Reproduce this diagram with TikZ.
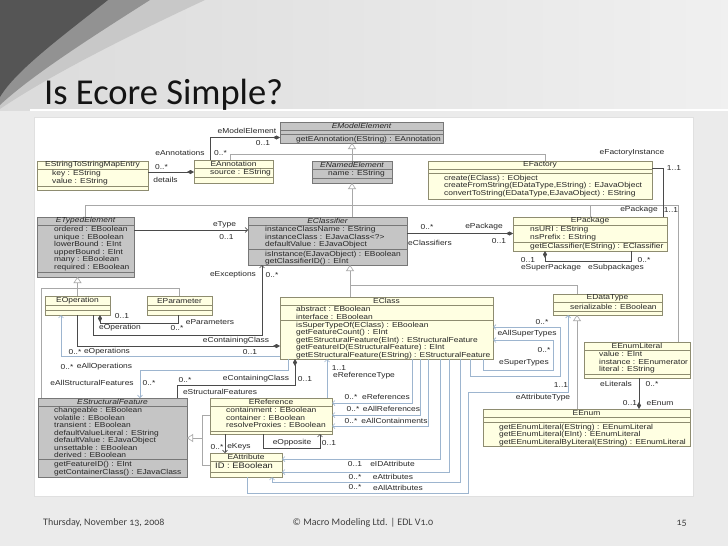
\documentclass[tikz,border=0pt]{standalone}
\usepackage{fontspec}
\setmainfont{Carlito}
\newfontfamily\footf[Numbers=OldStyle]{Carlito}
\newfontfamily\umlf[FakeStretch=1.17]{Liberation Sans}
\usetikzlibrary{arrows.meta}
\definecolor{slidebg}{HTML}{EBEBEB}
\definecolor{absfill}{HTML}{C5C5C5}
\definecolor{absdraw}{HTML}{777777}
\definecolor{confill}{HTML}{FFFFE2}
\definecolor{condraw}{HTML}{8E8C70}
\definecolor{genc}{HTML}{A8A8A8}
\definecolor{ascc}{HTML}{4A4A4A}
\definecolor{drvc}{HTML}{9DB5CF}
\definecolor{txtc}{HTML}{262626}
\definecolor{decoD}{HTML}{555555}
\definecolor{decoM}{HTML}{929292}
\definecolor{decoL}{HTML}{C8C8C8}
\newcommand\umlfont{\umlf\fontsize{7.2}{7.5}\selectfont}
\newcommand\umlbox[9]{%
  \pgfmathsetmacro\ubW{#5-#3}%
  \pgfmathsetmacro\ubH{#6-#4}%
  \pgfmathsetmacro\ubT{(#4+#7)/2}%
  \node[#2, minimum width=\ubW pt, minimum height=\ubH pt, anchor=north west] (#1) at (#3,#4) {};
  \draw[#2sep] (#1.west |- 0,#7) -- (#1.east |- 0,#7);
  \draw[#2sep] (#1.west |- 0,#8) -- (#1.east |- 0,#8);
  \node[ttl] (#1-t) at (#1.center |- 0,\ubT) {#9};
}
\begin{document}
\begin{tikzpicture}[x=1pt,y=-1pt,
  absbox/.style={draw=absdraw, fill=absfill, line width=0.6pt, inner sep=0pt, outer sep=0pt},
  conbox/.style={draw=condraw, fill=confill, line width=0.6pt, inner sep=0pt, outer sep=0pt},
  absboxsep/.style={draw=absdraw, line width=0.5pt},
  conboxsep/.style={draw=condraw, line width=0.5pt},
  ttl/.style={font=\umlfont, inner sep=0pt, text=txtc},
  rowtxt/.style={font=\umlfont, align=left, inner sep=0pt, anchor=north west, text=txtc},
  lbl/.style={font=\umlfont, inner sep=0pt, text=txtc},
  gen/.style={draw=genc, line width=0.6pt, -{Triangle[open, length=6pt, width=8pt, fill=white]}},
  genl/.style={draw=genc, line width=0.6pt},
  asc/.style={draw=ascc, line width=0.6pt},
  nav/.style={asc, -{Straight Barb[length=2.5pt, width=5pt]}},
  cmpE/.style={asc, -{Diamond[length=7pt, width=4pt]}},
  cmpS/.style={asc, {Diamond[length=7pt, width=4pt]}-},
  drv/.style={draw=drvc, line width=0.7pt, -{Straight Barb[length=2.5pt, width=5pt]}},
]
\useasboundingbox (0,0) rectangle (728,546);
% slide background
\fill[slidebg] (0,0) rectangle (728,546);
\shade[left color=black!14, right color=black!6] (0,0) rectangle (728,110);
\fill[decoL] (0,0) -- (205,0) .. controls (130,35) and (50,75) .. (0,109) -- cycle;
\fill[decoM] (0,0) -- (150,0) .. controls (95,35) and (32,75) .. (0,105) -- cycle;
\fill[decoD] (0,0) -- (108,0) .. controls (64,35) and (16,70) .. (0,97) -- cycle;
\draw[white, line width=1.2pt] (30,110) -- (728,110);
\node[anchor=base west, inner sep=0pt, font=\fontsize{36.5}{40}\selectfont, text=black!92] (title) at (44,104) {Is Ecore Simple?};
% white panel
\fill[white, draw=black!12] (34,117) rectangle (693,496);
% footer
\node[anchor=base west, inner sep=0pt, font=\footf\fontsize{10}{12}\selectfont, text=black!75] (fdate) at (43,525) {Thursday, November 13, 2008};
\node[anchor=base, inner sep=0pt, font=\footf\fontsize{10}{12}\selectfont, text=black!75] (fcopy) at (363,525) {© Macro Modeling Ltd. | EDL V1.0};
\node[anchor=base east, inner sep=0pt, font=\footf\fontsize{10}{12}\selectfont, text=black!75] (fnum) at (687,525) {15};

% ---------- classes ----------
\umlbox{emodel}{absbox}{280}{122}{443}{143}{130.5}{134.5}{\itshape EModelElement}
\node[rowtxt] (emodel-o) at (296,135.7) {getEAnnotation(EString) : EAnnotation};

\umlbox{enamed}{absbox}{312}{161}{392}{183}{169}{178.5}{\itshape ENamedElement}
\node[rowtxt] (enamed-a) at (328,170.5) {name : EString};

\umlbox{eannot}{conbox}{194}{160}{273}{183}{168}{177.5}{EAnnotation}
\node[rowtxt] (eannot-a) at (210,169.5) {source : EString};

\umlbox{emap}{conbox}{37}{161}{148}{190}{169}{186}{EStringToStringMapEntry}
\node[rowtxt] (emap-a) at (52,170.5) {key : EString\\value : EString};

\umlbox{efact}{conbox}{428}{161}{652}{199}{169}{173.5}{EFactory}
\node[rowtxt] (efact-o) at (444,175) {create(EClass) : EObject\\createFromString(EDataType,EString) : EJavaObject\\convertToString(EDataType,EJavaObject) : EString};

\umlbox{etyped}{absbox}{37}{217}{134}{277}{225}{272}{\itshape ETypedElement}
\node[rowtxt] (etyped-a) at (54,226.5) {ordered : EBoolean\\unique : EBoolean\\lowerBound : EInt\\upperBound : EInt\\many : EBoolean\\required : EBoolean};

\umlbox{eclsf}{absbox}{248}{217}{407}{265}{225}{249.5}{\itshape EClassifier}
\node[rowtxt] (eclsf-a) at (265,226.5) {instanceClassName : EString\\instanceClass : EJavaClass<?>\\defaultValue : EJavaObject};
\node[rowtxt] (eclsf-o) at (265,251) {isInstance(EJavaObject) : EBoolean\\getClassifierID() : EInt};

\umlbox{epack}{conbox}{513}{217}{667}{251}{225}{242}{EPackage}
\node[rowtxt] (epack-a) at (530,226.5) {nsURI : EString\\nsPrefix : EString};
\node[rowtxt] (epack-o) at (530,243.5) {getEClassifier(EString) : EClassifier};

\umlbox{eop}{conbox}{45}{296}{110}{315}{305.5}{310.5}{EOperation}
\umlbox{eparam}{conbox}{147}{296}{212}{315}{305.5}{310.5}{EParameter}

\umlbox{eclass}{conbox}{280}{297}{493}{359}{305}{320.5}{EClass}
\node[rowtxt] (eclass-a) at (296,306.5) {abstract : EBoolean\\interface : EBoolean};
\node[rowtxt] (eclass-o) at (296,322) {isSuperTypeOf(EClass) : EBoolean\\getFeatureCount() : EInt\\getEStructuralFeature(EInt) : EStructuralFeature\\getFeatureID(EStructuralFeature) : EInt\\getEStructuralFeature(EString) : EStructuralFeature};

\umlbox{edt}{conbox}{553}{294}{662}{315}{302.5}{311.5}{EDataType}
\node[rowtxt] (edt-a) at (570,304) {serializable : EBoolean};

\umlbox{elit}{conbox}{584}{342}{690}{378}{350}{374.5}{EEnumLiteral}
\node[rowtxt] (elit-a) at (599,351.5) {value : EInt\\instance : EEnumerator\\literal : EString};

\umlbox{eenum}{conbox}{483}{409}{690}{446}{417}{422}{EEnum}
\node[rowtxt] (eenum-o) at (499,424) {getEEnumLiteral(EString) : EEnumLiteral\\getEEnumLiteral(EInt) : EEnumLiteral\\getEEnumLiteralByLiteral(EString) : EEnumLiteral};

\umlbox{esf}{absbox}{38}{398}{187}{477}{406}{459.5}{\itshape EStructuralFeature}
\node[rowtxt] (esf-a) at (54,407.5) {changeable : EBoolean\\volatile : EBoolean\\transient : EBoolean\\defaultValueLiteral : EString\\defaultValue : EJavaObject\\unsettable : EBoolean\\derived : EBoolean};
\node[rowtxt] (esf-o) at (54,461.5) {getFeatureID() : EInt\\getContainerClass() : EJavaClass};

\umlbox{eref}{conbox}{210}{398}{332}{434}{406}{431}{EReference}
\node[rowtxt] (eref-a) at (226,407.5) {containment : EBoolean\\container : EBoolean\\resolveProxies : EBoolean};

\umlbox{eattr}{conbox}{210}{453}{282}{477}{461}{472}{EAttribute}
\node[rowtxt, font=\umlf\fontsize{8}{9}\selectfont] (eattr-a) at (215,462.3) {ID : EBoolean};

% ---------- generalizations ----------
\draw[gen] (enamed.north) -- (enamed.north |- emodel.south);
\draw[genl] (eannot.north -| 230,0) |- (545,154) -- (efact.north -| 545,0);
\draw[gen] (eclsf.north -| enamed.south) -- (enamed.south);
\draw[genl] (etyped.north) |- (678,205) -- (elit.north -| 678,0);
\draw[genl] (epack.north |- 0,205) -- (epack.north);
\draw[gen] (eop.north) -- (eop.north |- etyped.south);
\draw[genl] (esf.north -| 41,0) |- (eparam.north |- 0,288) -- (eparam.north);
\draw[gen] (eclass.north -| 350,0) -- (eclsf.south -| 350,0);
\draw[genl] (350,285) -| (edt.north -| 577,0);
\draw[gen] (eenum.north -| 577,0) -- (edt.south -| 577,0);
\draw[gen] (202,438) -- (esf.east |- 0,438);
\draw[genl] (eref.west |- 0,415) -| (202,465) -- (eattr.west |- 0,465);

% ---------- associations ----------
\draw[cmpE] (eannot.north -| 210,0) |- (emodel.west |- 0,137.5);
\draw[cmpE] (emap.east |- 0,172) -- (eannot.west |- 0,172);
\draw[nav] (etyped.east |- 0,230) -- (eclsf.west |- 0,230);
\draw[cmpE] (eclsf.east |- 0,233.5) -- (epack.west |- 0,233.5);
\draw[asc] (efact.east |- 0,168) -| (epack.north -| 663,0);
\draw[cmpS] (epack.south -| 545,0) |- (631,261) -- (epack.south -| 631,0);
\draw[cmpE] (elit.south -| 639,0) -- (eenum.north -| 639,0);
\draw[nav] (eop.south -| 93,0) |- (262,335) -- (eclsf.south -| 262,0);
\draw[cmpS] (eop.south -| 100,0) |- (178,323) -- (eparam.south -| 178,0);
\draw[cmpE] (eop.south -| 77,0) |- (eclass.west |- 0,346);
\draw[drv] (eclass.west |- 0,356.5) -| (eop.south -| 61,0);
\draw[cmpS] (eclass.south -| 295,0) |- (177,385) -- (esf.north -| 177,0);
\draw[drv] (eclass.south -| 288,0) |- (140,370) -- (esf.north -| 140,0);
\draw[drv] (eref.north -| 327,0) -- (eclass.south -| 327,0);
\draw[drv] (eclass.south -| 412,0) |- (eref.east |- 0,403);
\draw[drv] (eclass.south -| 420,0) |- (eref.east |- 0,415);
\draw[drv] (eclass.south -| 428,0) |- (eref.east |- 0,426);
\draw[drv] (eclass.south -| 440,0) |- (eattr.east |- 0,459);
\draw[drv] (eclass.south -| 449,0) |- (eattr.east |- 0,472);
\draw[drv] (eclass.south -| 460,0) |- (272,482) -- (eattr.south -| 272,0);
\draw[drv] (eclass.south -| 470,0) |- (560,376) |- (eclass.east |- 0,327);
\draw[drv] (eclass.south -| 483,0) |- (553,370) |- (eclass.east |- 0,340);
\draw[drv] (eattr.south -| 247,0) |- (468,493) |- (568,392) -- (edt.south -| 568,0);
\draw[nav] (eref.south -| 263,0) |- (320,448) -- (eref.south -| 320,0);
\draw[nav] (eref.south -| 225,0) -- (eattr.north -| 225,0);

% ---------- role labels ----------
\node[lbl] (l1) at (247,131) {eModelElement};
\node[lbl] (l2) at (263,143.5) {0..1};
\node[lbl] (l3) at (180,153) {eAnnotations};
\node[lbl] (l4) at (220.5,153) {0..*};
\node[lbl] (l5) at (161.5,167) {0..*};
\node[lbl] (l6) at (165.5,180) {details};
\node[lbl] (l7) at (224.5,224.5) {eType};
\node[lbl] (l8) at (226.5,236.7) {0..1};
\node[lbl] (l9) at (427,227) {0..*};
\node[lbl] (l10) at (484,227) {ePackage};
\node[lbl] (l11) at (430,242.5) {eClassifiers};
\node[lbl] (l12) at (499,241) {0..1};
\node[lbl] (l13) at (632,153) {eFactoryInstance};
\node[lbl] (l14) at (674,168) {1..1};
\node[lbl] (l15) at (639,210) {ePackage};
\node[lbl] (l16) at (671,210) {1..1};
\node[lbl] (l17) at (528,260) {0..1};
\node[lbl] (l18) at (551,268) {eSuperPackage};
\node[lbl] (l19) at (644,260) {0..*};
\node[lbl] (l20) at (616,268) {eSubpackages};
\node[lbl] (l21) at (616,384) {eLiterals};
\node[lbl] (l22) at (652,384) {0..*};
\node[lbl] (l23) at (630,403) {0..1};
\node[lbl] (l24) at (660,403) {eEnum};
\node[lbl] (l25) at (233,275) {eExceptions};
\node[lbl] (l26) at (272,275) {0..*};
\node[lbl] (l27) at (122,316.5) {0..1};
\node[lbl] (l28) at (120,327.5) {eOperation};
\node[lbl] (l29) at (210,322) {eParameters};
\node[lbl] (l30) at (177,328.5) {0..*};
\node[lbl] (l31) at (75,352) {0..*};
\node[lbl] (l32) at (107,352) {eOperations};
\node[lbl] (l33) at (236,341) {eContainingClass};
\node[lbl] (l34) at (250,352) {0..1};
\node[lbl] (l35) at (67,367) {0..*};
\node[lbl] (l36) at (104.5,367) {eAllOperations};
\node[lbl] (l37) at (256,379) {eContainingClass};
\node[lbl] (l38) at (305,379) {0..1};
\node[lbl] (l39) at (185,380) {0..*};
\node[lbl] (l40) at (220,392) {eStructuralFeatures};
\node[lbl] (l41) at (92,383) {eAllStructuralFeatures};
\node[lbl] (l42) at (149,383) {0..*};
\node[lbl] (l43) at (339,368) {1..1};
\node[lbl] (l44) at (364,376) {eReferenceType};
\node[lbl] (l45) at (351,397) {0..*};
\node[lbl] (l46) at (386,397) {eReferences};
\node[lbl] (l47) at (353,409) {0..*};
\node[lbl] (l48) at (391.5,409) {eAllReferences};
\node[lbl] (l49) at (351,421) {0..*};
\node[lbl] (l50) at (394.5,421) {eAllContainments};
\node[lbl] (l51) at (355,464) {0..1};
\node[lbl] (l52) at (392.5,464) {eIDAttribute};
\node[lbl] (l53) at (355,477) {0..*};
\node[lbl] (l54) at (393,477) {eAttributes};
\node[lbl] (l55) at (355,487.5) {0..*};
\node[lbl] (l56) at (398,487.5) {eAllAttributes};
\node[lbl] (l57) at (542,322) {0..*};
\node[lbl] (l58) at (527,333.5) {eAllSuperTypes};
\node[lbl] (l59) at (544,350) {0..*};
\node[lbl] (l60) at (524,363) {eSuperTypes};
\node[lbl] (l61) at (561,385) {1..1};
\node[lbl] (l62) at (543,398) {eAttributeType};
\node[lbl] (l63) at (292,443) {eOpposite};
\node[lbl] (l64) at (329,443) {0..1};
\node[lbl] (l65) at (217,447) {0..*};
\node[lbl] (l66) at (239,447) {eKeys};
\end{tikzpicture}
\end{document}
